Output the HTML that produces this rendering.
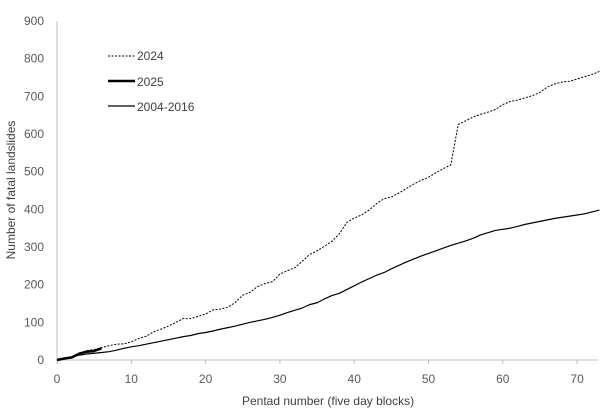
<!DOCTYPE html>
<html><head><meta charset="utf-8"><style>
body{margin:0;background:#fff;}
svg{font-family:"Liberation Sans",sans-serif;}
</style></head><body>
<svg id="chart" width="606" height="410">
<g id="axes"></g><g id="series"></g>
<g font-size="12" fill="#404040">
<line x1="108" y1="56" x2="135" y2="56" stroke="#000" stroke-width="1" stroke-dasharray="2,1.5"/>
<text x="137" y="60">2024</text>
<line x1="108" y1="81" x2="135" y2="81" stroke="#000" stroke-width="2.5"/>
<text x="137" y="86">2025</text>
<line x1="108" y1="106" x2="135" y2="106" stroke="#000" stroke-width="1.2"/>
<text x="137" y="111">2004-2016</text>
</g>
<text x="242" y="405" font-size="12" fill="#404040">Pentad number (five day blocks)</text>
<text transform="translate(15,190) rotate(-90)" text-anchor="middle" font-size="12" fill="#404040">Number of fatal landslides</text>
</svg>
<script>
const xTicks=[0,10,20,30,40,50,60,70];
const yTicks=[0,100,200,300,400,500,600,700,800,900];
const series2024=[0,4,8,18,25,28,33,38,42,43,48,57,63,75,82,90,100,110,110,116,122,133,135,140,153,172,180,195,203,208,228,237,245,262,280,290,302,315,335,365,377,385,398,415,428,433,443,455,467,477,485,497,508,518,625,635,645,652,658,665,678,686,690,696,702,710,725,733,738,740,746,752,758,766];
const series2025=[0,4,7,17,22,24,31];
const seriesClim=[0,4,8,13,16,18,20,22,26,31,35,38,42,46,50,54,58,62,65,70,73,77,82,86,90,95,100,104,108,113,119,126,132,138,147,152,162,171,177,187,197,207,216,225,232,242,251,260,268,276,283,290,297,304,310,316,323,332,338,344,347,350,355,360,364,368,372,376,379,382,385,388,393,398];
const X=v=>57+v*7.43, Y=v=>360-v*0.3767;
const NS='http://www.w3.org/2000/svg';
const axes=document.getElementById('axes'), ser=document.getElementById('series');
function mk(tag,attrs,parent){const e=document.createElementNS(NS,tag);for(const k in attrs)e.setAttribute(k,attrs[k]);parent.appendChild(e);return e;}
const ya=mk('line',{x1:57,y1:21,x2:57,y2:360,stroke:'#bfbfbf'},axes);


const xa=mk('line',{x1:57,y1:360,x2:598,y2:360,stroke:'#bfbfbf'},axes);


xTicks.forEach(t=>{
 const tk=mk('line',{x1:X(t),y1:360,x2:X(t),y2:364,stroke:'#bfbfbf'},axes);
 
 
 const tx=mk('text',{x:X(t),y:383,'text-anchor':'middle','font-size':12,fill:'#595959'},axes);
 tx.textContent=t;
 
 
});
yTicks.forEach(t=>{
 const tx=mk('text',{x:44,y:Y(t)+4,'text-anchor':'end','font-size':12,fill:'#595959'},axes);
 tx.textContent=t;
 
 
});
function line(arr,attrs){return mk('polyline',Object.assign({points:arr.map((v,i)=>X(i)+','+Y(v)).join(' '),fill:'none',stroke:'#000','stroke-linejoin':'round'},attrs),ser);}
const l1=line(seriesClim,{'stroke-width':1.2});


const l2=line(series2024,{'stroke-width':1,'stroke-dasharray':'2,1.5'});


const l3=line(series2025,{'stroke-width':2.5});


</script>
</body></html>
